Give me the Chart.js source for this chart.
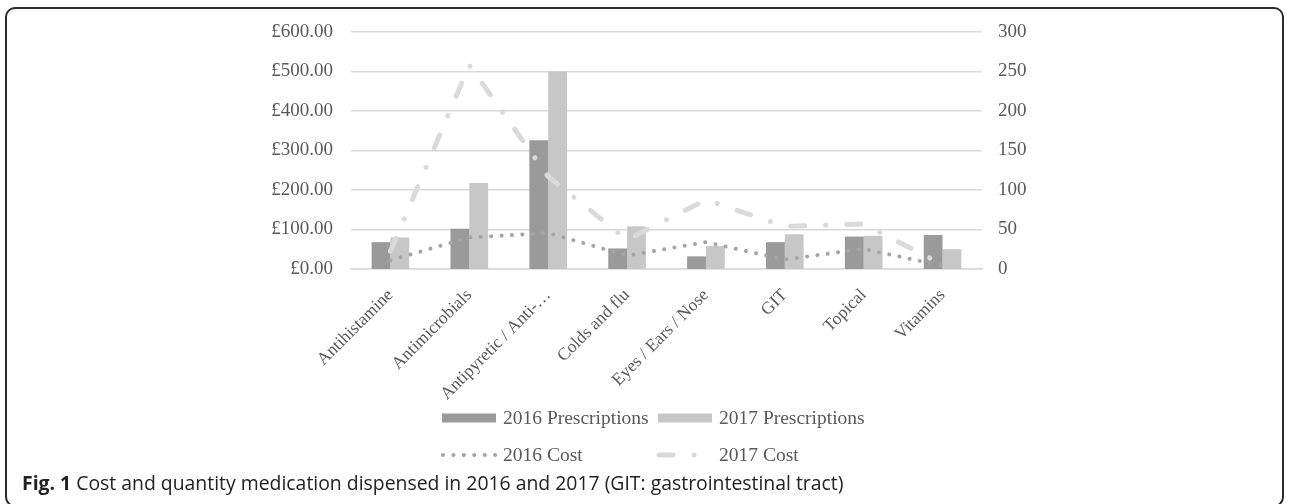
<!DOCTYPE html>
<html>
<head>
<meta charset="utf-8">
<script src="https://cdn.jsdelivr.net/npm/chart.js@4.4.1/dist/chart.umd.min.js"></script>
<style>
  html, body { margin: 0; padding: 0; background: #fff; }
  body { width: 1289px; height: 504px; position: relative; overflow: hidden; }
  #frame {
    position: absolute; left: 5px; top: 7px; width: 1279px; height: 500px;
    border: 2px solid #2b2b2b; border-radius: 10px; box-sizing: border-box;
  }
  #wrap { position: absolute; left: 0; top: 0; width: 1289px; height: 504px; }
  #caption {
    position: absolute; left: 22px; top: 473px; line-height: 20px;
    font-family: "Open Sans", "Noto Sans", sans-serif; font-size: 19.4px; color: #222;
    white-space: nowrap;
  }
  #caption b { font-weight: 700; }
</style>
</head>
<body>
<div id="frame"></div>
<div id="wrap"><canvas id="chart" width="1289" height="504"></canvas></div>
<div id="caption"><b>Fig. 1</b> Cost and quantity medication dispensed in 2016 and 2017 (GIT: gastrointestinal tract)</div>
<script>
// --- data ---
const categories = ["Antihistamine", "Antimicrobials", "Antipyretic / Anti-…", "Colds and flu",
  "Eyes / Ears / Nose", "GIT", "Topical", "Vitamins"];
const rx2016 = [34, 51, 163, 26, 16, 34, 41, 43];
const rx2017 = [40, 109, 250, 54, 29, 44, 42, 25];
const cost2016 = [22, 80, 91, 34, 68, 24, 51, 8];
const cost2017 = [45, 516, 234, 74, 175, 108, 114, 11];
const costTicks = [0, 100, 200, 300, 400, 500, 600];
const countTicks = [0, 50, 100, 150, 200, 250, 300];

const FONT = '"Liberation Serif", "Times New Roman", serif';
const TXT = '#595959';

// custom legend, laid out in two rows like the original
const gridLegend = {
  id: 'gridLegend',
  afterDraw(chart) {
    const ctx = chart.ctx;
    const cols = [442, 658];
    const rows = [418, 455];
    ctx.save();
    ctx.font = '19.5px ' + FONT;
    ctx.textBaseline = 'middle';
    chart.data.datasets.forEach((ds, i) => {
      const x = cols[i % 2], y = rows[Math.floor(i / 2)];
      if (ds.type === 'bar') {
        ctx.fillStyle = ds.backgroundColor;
        ctx.fillRect(x, y - 4.5, 54, 9);
      } else {
        ctx.strokeStyle = ds.borderColor;
        ctx.lineWidth = ds.borderWidth;
        ctx.lineCap = 'round';
        ctx.setLineDash(ds.borderDash);
        ctx.beginPath();
        ctx.moveTo(x + 1, y);
        ctx.lineTo(x + 54, y);
        ctx.stroke();
        ctx.setLineDash([]);
      }
      ctx.fillStyle = TXT;
      ctx.fillText(ds.label, x + 61, y + 1);
    });
    ctx.restore();
  }
};

new Chart(document.getElementById('chart'), {
  data: {
    labels: categories,
    datasets: [
      { type: 'bar', label: '2016 Prescriptions', data: rx2016, yAxisID: 'yR',
        backgroundColor: '#9a9a9a', barPercentage: 1, categoryPercentage: 0.477, order: 2 },
      { type: 'bar', label: '2017 Prescriptions', data: rx2017, yAxisID: 'yR',
        backgroundColor: '#c6c7c6', barPercentage: 1, categoryPercentage: 0.477, order: 2 },
      { type: 'line', label: '2016 Cost', data: cost2016, yAxisID: 'yL',
        borderColor: '#a5a5a5', borderWidth: 4, borderDash: [0.1, 10.3], borderCapStyle: 'round',
        pointRadius: 0, tension: 0, fill: false, order: 1 },
      { type: 'line', label: '2017 Cost', data: cost2017, yAxisID: 'yL',
        borderColor: '#dadada', borderWidth: 5, borderDash: [14, 21, 0.1, 21], borderCapStyle: 'round',
        pointRadius: 0, tension: 0, fill: false, order: 1 }
    ]
  },
  options: {
    responsive: false,
    animation: false,
    layout: { padding: { top: 32, left: 0, right: 0, bottom: 0 } },
    plugins: { legend: { display: false }, tooltip: { enabled: false } },
    scales: {
      x: {
        grid: { display: false },
        border: { display: true, color: '#d9d9d9', width: 1.5 },
        ticks: { color: TXT, font: { family: FONT, size: 17.5 }, maxRotation: 45, minRotation: 45,
          autoSkip: false, padding: 8 },
        afterFit: s => { s.height = 504 - 269; }
      },
      yL: {
        position: 'left', min: 0, max: 600,
        afterBuildTicks: s => { s.ticks = costTicks.map(v => ({ value: v })); },
        grid: { color: '#d9d9d9', lineWidth: 1.5, drawTicks: false },
        border: { display: false },
        ticks: { color: TXT, font: { family: FONT, size: 19 }, padding: 18,
          callback: v => '£' + v.toFixed(2) },
        afterFit: s => { s.width = 351; }
      },
      yR: {
        position: 'right', min: 0, max: 300,
        afterBuildTicks: s => { s.ticks = countTicks.map(v => ({ value: v })); },
        grid: { display: false, drawTicks: false },
        border: { display: false },
        ticks: { color: TXT, font: { family: FONT, size: 19 }, padding: 16 },
        afterFit: s => { s.width = 1289 - 982; }
      }
    }
  },
  plugins: [gridLegend]
});
</script>
</body>
</html>
